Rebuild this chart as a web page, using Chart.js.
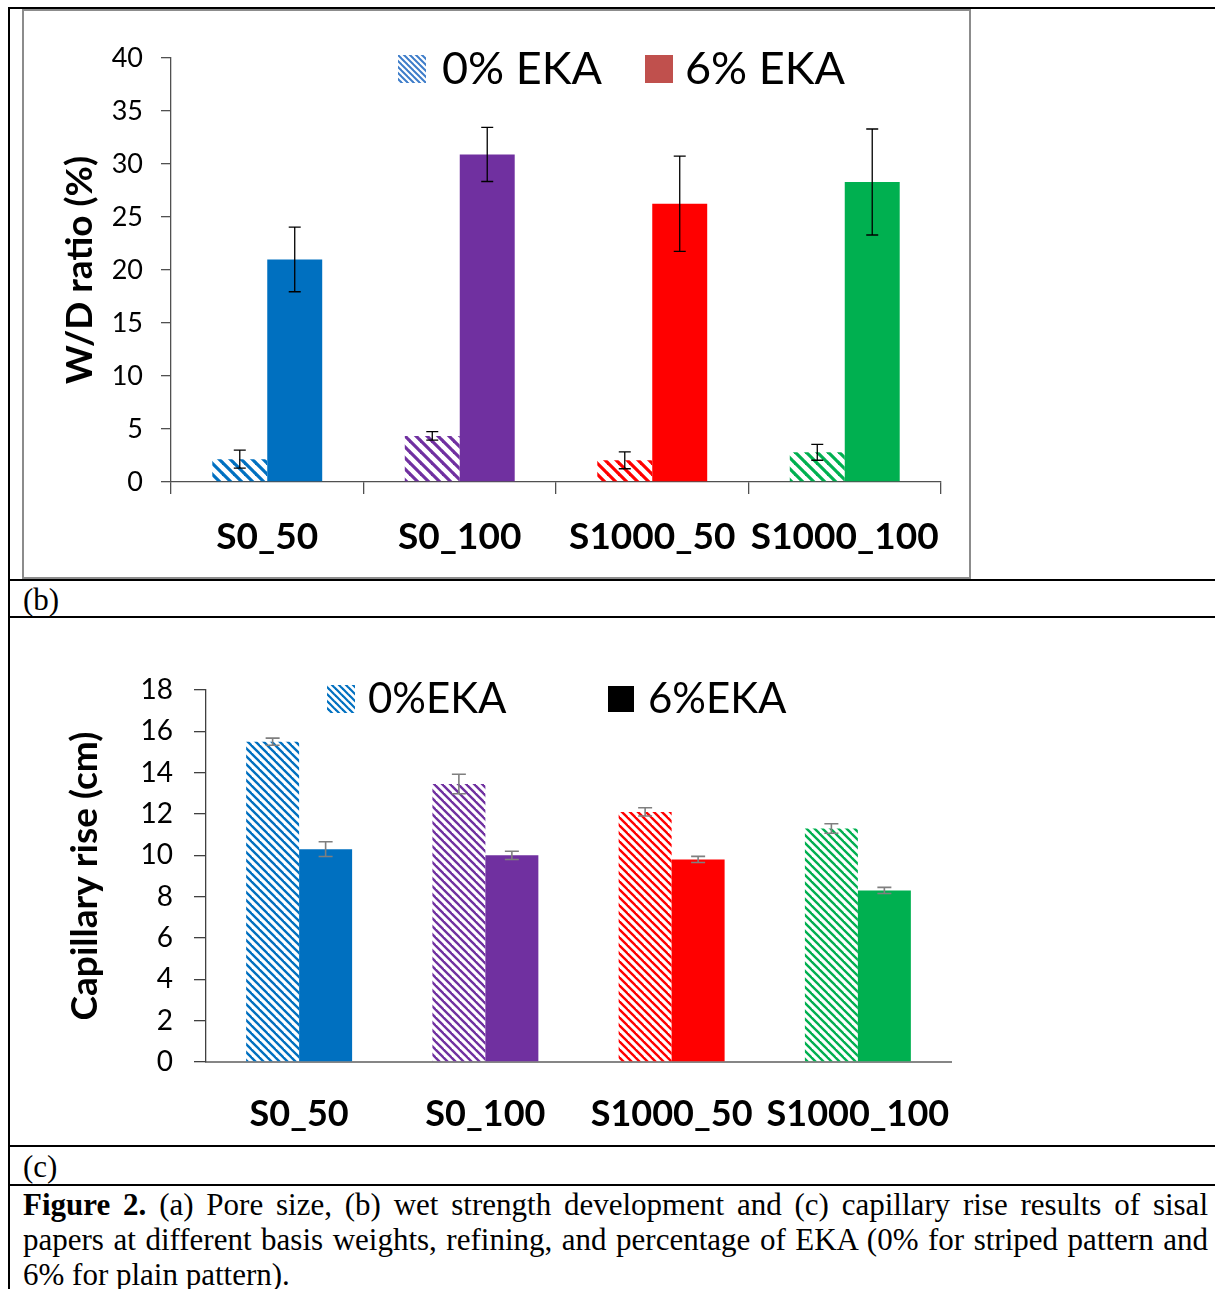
<!DOCTYPE html>
<html>
<head>
<meta charset="utf-8">
<script src="https://cdn.jsdelivr.net/npm/chart.js@4.4.1/dist/chart.umd.min.js"></script>
<style>
html, body { margin: 0; padding: 0; background: #fff; }
body { width: 1215px; height: 1289px; position: relative; overflow: hidden; }
.ln { position: absolute; background: #000; }
#frameB { position: absolute; left: 22px; top: 9px; width: 949px; height: 570px; box-sizing: border-box;
          border: 2px solid #8c8c8c; background: #fff; }
#frameC { position: absolute; left: 20px; top: 618px; width: 951px; height: 527px; background: #fff; }
canvas { display: block; }
.lab { position: absolute; left: 23px; font: 31px/35px 'Liberation Serif', serif; }
#cap { position: absolute; left: 23px; top: 1187px; width: 1185px; font: 31px/35px 'Liberation Serif', serif; }
#cap span { display: block; white-space: nowrap; }
#cap .j { text-align: justify; text-align-last: justify; white-space: normal; }
</style>
</head>
<body>
<div class="ln" style="left:8px;top:7px;width:1207px;height:2px"></div>
<div class="ln" style="left:8px;top:7px;width:2px;height:1282px"></div>
<div class="ln" style="left:8px;top:579px;width:1207px;height:2px"></div>
<div class="ln" style="left:8px;top:616px;width:1207px;height:2px"></div>
<div class="ln" style="left:8px;top:1145px;width:1207px;height:2px"></div>
<div class="ln" style="left:8px;top:1184px;width:1207px;height:2px"></div>

<div id="frameB"><canvas id="wd" width="945" height="566"></canvas></div>
<div class="lab" style="top:582px">(b)</div>
<div id="frameC"><canvas id="cap-rise" width="951" height="527"></canvas></div>
<div class="lab" style="top:1149px">(c)</div>
<div id="cap">
<span class="j"><b>Figure 2.</b> (a) Pore size, (b) wet strength development and (c) capillary rise results of sisal</span>
<span class="j">papers at different basis weights, refining, and percentage of EKA (0% for striped pattern and</span>
<span>6% for plain pattern).</span>
</div>

<script>
// shared categories and colours
const categories = ['S0_50', 'S0_100', 'S1000_50', 'S1000_100'];
const barColors = ['#0070C0', '#7030A0', '#FF0000', '#00B050'];

// (b) wet/dry strength ratio, %
const wdLabels = ['0% EKA', '6% EKA'];
const wd0 = [2.15, 4.35, 2.05, 2.8];
const wd0Err = [0.85, 0.4, 0.8, 0.75];
const wd6 = [21.0, 30.9, 26.25, 28.3];
const wd6Err = [3.05, 2.55, 4.5, 5.0];
const wdTicks = { min: 0, max: 40, step: 5 };

// (c) capillary rise, cm
const capLabels = ['0%EKA', '6%EKA'];
const cap0 = [15.5, 13.45, 12.1, 11.3];
const cap0Err = [0.17, 0.47, 0.2, 0.23];
const cap6 = [10.3, 10.0, 9.8, 8.3];
const cap6Err = [0.36, 0.2, 0.15, 0.15];
const capTicks = { min: 0, max: 18, step: 2 };

// diagonal "\" stripes, used for the 0% EKA bars
function hatch(color, p, lw) {
    const c = document.createElement('canvas');
    c.width = c.height = p;
    const g = c.getContext('2d');
    g.strokeStyle = color;
    g.lineWidth = lw;
    for (let k = -1; k <= 1; k++) {
        g.beginPath();
        g.moveTo(k * p - 1, -1);
        g.lineTo(k * p + p + 1, p + 1);
        g.stroke();
    }
    return g.createPattern(c, 'repeat');
}

const errorBars = {
    id: 'errorBars',
    afterDatasetsDraw(chart, args, opts) {
        const { ctx } = chart;
        const y = chart.scales.y;
        ctx.save();
        ctx.strokeStyle = opts.color;
        ctx.lineWidth = opts.width;
        chart.data.datasets.forEach((ds, di) => {
            chart.getDatasetMeta(di).data.forEach((bar, i) => {
                const v = ds.data[i], e = ds.errors[i];
                const top = y.getPixelForValue(v + e), bot = y.getPixelForValue(v - e);
                ctx.beginPath();
                ctx.moveTo(bar.x, top); ctx.lineTo(bar.x, bot);
                ctx.moveTo(bar.x - opts.cap, top); ctx.lineTo(bar.x + opts.cap, top);
                ctx.moveTo(bar.x - opts.cap, bot); ctx.lineTo(bar.x + opts.cap, bot);
                ctx.stroke();
            });
        });
        ctx.restore();
    }
};

// legend sits inside the plot, where Excel put it
const fixedLegend = {
    id: 'fixedLegend',
    afterDraw(chart, args, opts) {
        const { ctx } = chart;
        ctx.save();
        ctx.font = opts.font;
        ctx.textBaseline = 'middle';
        opts.items.forEach((it, i) => {
            ctx.fillStyle = it.fill;
            ctx.fillRect(it.x, it.y, it.size, it.size);
            ctx.fillStyle = '#000';
            ctx.fillText(chart.data.datasets[i].label, it.textX, it.y + it.size / 2);
        });
        ctx.restore();
    }
};

const font = (size, weight) => ({ family: 'Lato', size, weight: weight || 'normal' });

function barChart(canvasId, o) {
    return new Chart(document.getElementById(canvasId), {
        type: 'bar',
        data: {
            labels: categories,
            datasets: [
                { label: o.labels[0], data: o.d0, errors: o.e0,
                  backgroundColor: barColors.map(c => hatch(c, o.hatchP, o.hatchW)) },
                { label: o.labels[1], data: o.d6, errors: o.e6, backgroundColor: barColors },
            ],
        },
        options: {
            responsive: false,
            animation: false,
            devicePixelRatio: 1,
            datasets: { bar: { categoryPercentage: o.catPct, barPercentage: 1, borderWidth: 0 } },
            layout: { padding: { top: o.padTop, right: o.padRight, left: 0, bottom: 0 } },
            plugins: {
                legend: { display: false },
                tooltip: { enabled: false },
                errorBars: o.err,
                fixedLegend: o.legend,
            },
            scales: {
                x: {
                    grid: o.xGrid,
                    border: o.xBorder,
                    ticks: { font: font(o.xFont, 'bold'), color: '#000', padding: o.xPad,
                             maxRotation: 0, autoSkip: false },
                    // keep the plot width fixed; long labels may run past the edge
                    afterFit(s) { s.height = o.xHeight; s.paddingLeft = 0; s.paddingRight = 0; },
                },
                y: {
                    min: o.ticks.min,
                    max: o.ticks.max,
                    ticks: { stepSize: o.ticks.step, font: font(o.yFont), color: '#000', padding: o.yPad },
                    grid: { drawOnChartArea: false, tickLength: o.yTick, color: o.yColor, lineWidth: 1.3 },
                    border: { color: o.yColor, width: 1.3 },
                    title: { display: true, text: o.yTitle, font: font(37, 'bold'), color: '#000',
                             padding: { top: o.titlePad, bottom: 0 } },
                    afterFit(s) { s.width = o.yWidth; },
                },
            },
        },
        plugins: [errorBars, fixedLegend],
    });
}

barChart('wd', {
    labels: wdLabels, d0: wd0, e0: wd0Err, d6: wd6, e6: wd6Err, ticks: wdTicks,
    hatchP: 11, hatchW: 3.2, catPct: 0.571,
    padTop: 47, padRight: 28, xHeight: 95, yWidth: 147,
    xFont: 37, xPad: 21, yPad: 18, yTick: 10, yFont: 27, yColor: '#505050',
    xGrid: { drawOnChartArea: false, tickLength: 12, color: '#505050', lineWidth: 1.3 },
    xBorder: { color: '#505050', width: 1.3 },
    yTitle: 'W/D ratio (%)', titlePad: 34,
    err: { color: '#000', width: 1.3, cap: 6 },
    legend: {
        font: '45px Lato',
        items: [
            { x: 374, y: 44, size: 28, textX: 418, fill: hatch('#3d7cc9', 6, 2) },
            { x: 621, y: 44, size: 28, textX: 661, fill: '#C0504D' },
        ],
    },
});

barChart('cap-rise', {
    labels: capLabels, d0: cap0, e0: cap0Err, d6: cap6, e6: cap6Err, ticks: capTicks,
    hatchP: 8, hatchW: 2.4, catPct: 0.569,
    padTop: 72, padRight: 20, xHeight: 83, yWidth: 186,
    xFont: 36, xPad: 31, yPad: 21, yTick: 12, yFont: 28, yColor: '#404040',
    xGrid: { display: false, drawTicks: false },
    xBorder: { color: '#868686', width: 2 },
    yTitle: 'Capillary rise (cm)', titlePad: 43,
    err: { color: '#7f7f7f', width: 1.6, cap: 7 },
    legend: {
        font: '42px Lato',
        items: [
            { x: 307, y: 67, size: 28, textX: 348, fill: hatch('#0070C0', 7, 2.2) },
            { x: 588, y: 68, size: 26, textX: 628, fill: '#000' },
        ],
    },
});
</script>
</body>
</html>
